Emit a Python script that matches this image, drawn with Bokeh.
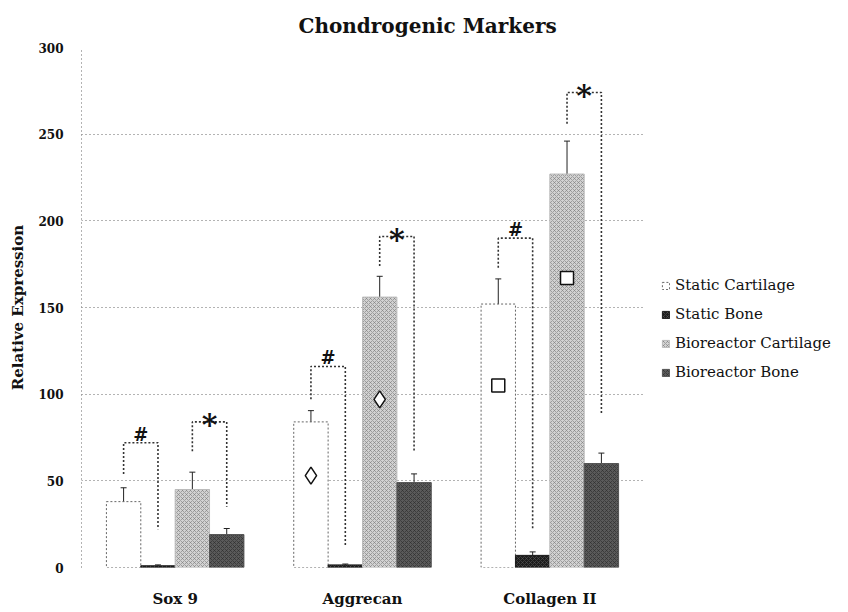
from bokeh.plotting import figure
from bokeh.models import (Range1d, FixedTicker, Legend, LegendItem, Whisker,
                          ColumnDataSource, TeeHead)
from bokeh.core.properties import value
from bokeh.embed import file_html
from bokeh.resources import INLINE

# ---------------- data ----------------
categories = ["Sox 9", "Aggrecan", "Collagen II"]
series = ["Static Cartilage", "Static Bone", "Bioreactor Cartilage", "Bioreactor Bone"]
y_ticks = [0, 50, 100, 150, 200, 250, 300]

static_cartilage = [38, 84, 152]
static_cartilage_err = [8, 6.5, 14.5]
static_bone = [1, 1.5, 7]
static_bone_err = [0.5, 0.5, 2]
bioreactor_cartilage = [45, 156, 227]
bioreactor_cartilage_err = [10, 12, 19]
bioreactor_bone = [19, 49, 60]
bioreactor_bone_err = [3.5, 5, 6]

# hollow markers inside the bars (category index, series index, value)
diamond_cat = [1, 1]
diamond_series = [0, 2]
diamond_vals = [53, 97]
square_cat = [2, 2]
square_series = [0, 2]
square_vals = [105, 167]

# significance brackets: "#" (static cartilage vs static bone), "*" (bioreactor cartilage vs bone)
hash_top = [72, 116, 190]
hash_left_end = [54, 97, 173]
hash_right_end = [22, 13, 22]
star_top = [84, 191, 274]
star_left_end = [67, 174, 256]
star_right_end = [35, 67, 89]

# ---------------- styling ----------------
SERIF = "DejaVu Serif"
bar_w = 0.1835
offsets = [-1.5 * bar_w, -0.5 * bar_w, 0.5 * bar_w, 1.5 * bar_w]

p = figure(frame_width=562, frame_height=520,
           x_range=Range1d(-0.5, 2.5), y_range=Range1d(0, 300),
           output_backend="svg", toolbar_location=None,
           min_border_left=81, min_border_right=190, min_border_top=47, min_border_bottom=36)
p.outline_line_color = None
p.background_fill_color = "white"
p.border_fill_color = "white"

p.title.text = "Chondrogenic Markers"
p.title.align = "left"
p.title.offset = 217
p.title.text_font = SERIF
p.title.text_font_size = "20px"
p.title.text_font_style = "bold"
p.title.text_color = "#111111"
p.title.standoff = 20

p.xgrid.grid_line_color = None
p.ygrid.grid_line_color = "#666666"
p.ygrid.grid_line_dash = "1 3"
p.ygrid.grid_line_width = 1

p.yaxis.ticker = FixedTicker(ticks=y_ticks)
p.yaxis.axis_line_color = "#666666"
p.yaxis.axis_line_dash = "1 3"
p.yaxis.major_tick_line_color = None
p.yaxis.minor_tick_line_color = None
p.yaxis.major_tick_out = 0
p.yaxis.major_tick_in = 0
p.yaxis.minor_tick_out = 0
p.yaxis.major_label_text_font = SERIF
p.yaxis.major_label_text_font_style = "bold"
p.yaxis.major_label_text_font_size = "12px"
p.yaxis.major_label_text_color = "#111111"
p.yaxis.major_label_standoff = 18
p.yaxis.axis_label = "Relative Expression"
p.yaxis.axis_label_text_font = SERIF
p.yaxis.axis_label_text_font_style = "bold"
p.yaxis.axis_label_text_font_size = "15px"
p.yaxis.axis_label_text_color = "#111111"
p.yaxis.axis_label_standoff = 8

p.xaxis.ticker = FixedTicker(ticks=list(range(len(categories))))
p.xaxis.major_label_overrides = {i: c for i, c in enumerate(categories)}
p.xaxis.axis_line_color = None
p.xaxis.major_tick_line_color = None
p.xaxis.minor_tick_line_color = None
p.xaxis.major_tick_out = 0
p.xaxis.major_tick_in = 0
p.xaxis.minor_tick_out = 0
p.xaxis.major_label_text_font = SERIF
p.xaxis.major_label_text_font_style = "bold"
p.xaxis.major_label_text_font_size = "15px"
p.xaxis.major_label_text_color = "#111111"
p.xaxis.major_label_standoff = 22

values = [static_cartilage, static_bone, bioreactor_cartilage, bioreactor_bone]
errors = [static_cartilage_err, static_bone_err, bioreactor_cartilage_err, bioreactor_bone_err]
styles = [
    dict(fill_color="white", line_color="#666666", line_dash="2 2", line_width=1),
    dict(fill_color="#1c1c1c", line_color="#1c1c1c", hatch_pattern="x", hatch_color="#555555",
         hatch_scale=4, hatch_weight=0.6),
    dict(fill_color="#d2d2d2", line_color="#bbbbbb", hatch_pattern="x", hatch_color="#7a7a7a",
         hatch_scale=4, hatch_weight=0.6),
    dict(fill_color="#5a5a5a", line_color="#555555", hatch_pattern="x", hatch_color="#2a2a2a",
         hatch_scale=4, hatch_weight=0.6),
]

renderers = []
wx, wup, wlo = [], [], []
for s, (vals, errs, st) in enumerate(zip(values, errors, styles)):
    xs = [i + offsets[s] for i in range(len(categories))]
    src = ColumnDataSource(dict(x=xs, top=vals))
    r = p.vbar(x="x", top="top", width=bar_w, bottom=0, source=src, **st)
    renderers.append(r)
    for x, v, e in zip(xs, vals, errs):
        wx.append(x)
        wup.append(v + e)
        wlo.append(v - e)

wsrc = ColumnDataSource(dict(base=wx, upper=wup, lower=wlo))
p.add_layout(Whisker(source=wsrc, base="base", upper="upper", lower="lower",
                     line_color="#222222", line_width=1,
                     upper_head=TeeHead(size=6, line_color="#222222", line_width=1),
                     lower_head=TeeHead(size=6, line_color="#222222", line_width=1)))

# hollow markers
p.scatter(x=[c + offsets[s] for c, s in zip(diamond_cat, diamond_series)], y=diamond_vals,
          marker="diamond", size=17, fill_color="white", line_color="#111111", line_width=1.5)
p.scatter(x=[c + offsets[s] for c, s in zip(square_cat, square_series)], y=square_vals,
          marker="square", size=13, fill_color="white", line_color="#111111", line_width=1.5)

# brackets
bx, by, sym_x, sym_y, sym_t = [], [], [], [], []
for i in range(len(categories)):
    xl, xr = i + offsets[0], i + offsets[1]
    bx.append([xl, xl, xr, xr]); by.append([hash_left_end[i], hash_top[i], hash_top[i], hash_right_end[i]])
    sym_x.append((xl + xr) / 2); sym_y.append(hash_top[i]); sym_t.append("#")
    xl, xr = i + offsets[2], i + offsets[3]
    bx.append([xl, xl, xr, xr]); by.append([star_left_end[i], star_top[i], star_top[i], star_right_end[i]])
p.multi_line(xs=bx, ys=by, line_color="#333333", line_width=1.6, line_dash="2 2")

p.text(x=sym_x, y=sym_y, text=sym_t, text_font=value(SERIF), text_font_style="bold",
       text_font_size="18px", text_align="center", text_baseline="bottom", text_color="#111111",
       y_offset=2)
p.text(x=[i + (offsets[2] + offsets[3]) / 2 for i in range(len(categories))], y=star_top,
       text=["*"] * len(categories), text_font=value(SERIF), text_font_style="bold",
       text_font_size="30px", text_align="center", text_baseline="alphabetic", text_color="#111111",
       y_offset=3)

legend = Legend(items=[LegendItem(label=n, renderers=[r]) for n, r in zip(series, renderers)],
                location=(18, 185))
legend.border_line_color = None
legend.background_fill_alpha = 0
legend.padding = 0
legend.margin = 0
legend.spacing = 9
legend.glyph_width = 9
legend.glyph_height = 9
legend.label_height = 20
legend.label_standoff = 5
legend.label_text_font = SERIF
legend.label_text_font_size = "15px"
legend.label_text_color = "#111111"
p.add_layout(legend, "right")

open("out.html", "w").write(file_html(p, INLINE))
